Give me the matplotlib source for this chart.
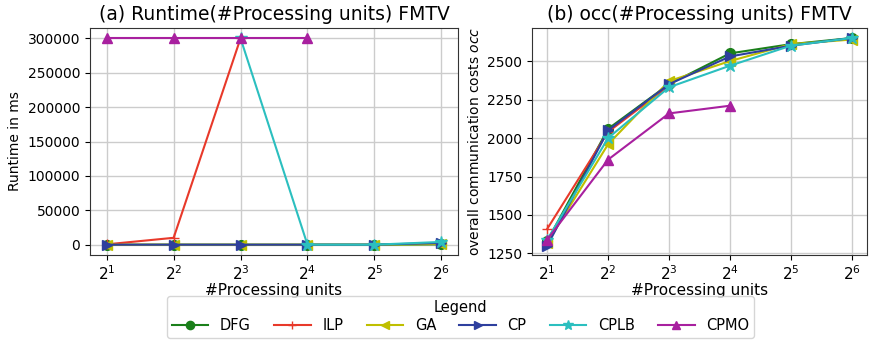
import matplotlib
matplotlib.use("Agg")
import matplotlib.pyplot as plt
import numpy as np

units = [2, 4, 8, 16, 32, 64]
tick_labels = [r"$2^{1}$", r"$2^{2}$", r"$2^{3}$", r"$2^{4}$", r"$2^{5}$", r"$2^{6}$"]

names = ["DFG", "ILP", "GA", "CP", "CPLB", "CPMO"]
colors = ["#1a7f1a", "#e8392a", "#bfbf00", "#2e3f9e", "#2bbfbf", "#a8209f"]
markers = ["o", "+", "<", ">", "*", "^"]

nan = float("nan")
runtime_dfg = [0, 0, 0, 0, 0, 500]
runtime_ilp = [500, 10000, 300000]
runtime_ga = [0, 0, 0, 0, 0, 1000]
runtime_cp = [0, 0, 0, 0, 0, 2500]
runtime_cplb = [nan, nan, 300000, 0, 0, 4000]
runtime_cpmo = [300000, 300000, 300000, 300000]

occ_dfg = [1330, 2060, 2350, 2550, 2610, 2650]
occ_ilp = [1410, 2040, 2340]
occ_ga = [1320, 1960, 2370, 2500, 2610, 2640]
occ_cp = [1300, 2050, 2350, 2530, 2600, 2650]
occ_cplb = [1340, 2000, 2330, 2470, 2600, 2650]
occ_cpmo = [1340, 1860, 2160, 2210]

runtimes = [runtime_dfg, runtime_ilp, runtime_ga, runtime_cp, runtime_cplb, runtime_cpmo]
occs = [occ_dfg, occ_ilp, occ_ga, occ_cp, occ_cplb, occ_cpmo]

plt.rcParams['font.family'] = ['DejaVu Sans']
plt.rcParams['font.size'] = 10

fig = plt.figure(figsize=(8.74, 3.45), dpi=100)
ax1 = fig.add_axes([90/874, 1-255/345, 368/874, 227/345])
ax2 = fig.add_axes([532/874, 1-255/345, 335/874, 227/345])

for ax, data in [(ax1, runtimes), (ax2, occs)]:
    for name, c, m, vals in zip(names, colors, markers, data):
        ms = 9 if m == "*" else 7
        ax.plot(units[:len(vals)], vals, color=c, marker=m, label=name, markersize=ms, linewidth=1.5)
    ax.set_xscale("log", base=2)
    ax.set_xticks(units)
    ax.set_xticklabels(tick_labels, fontsize=11)
    ax.minorticks_off()
    ax.grid(True, color="#cccccc", linewidth=1)
    ax.set_axisbelow(True)
    ax.set_xlabel("#Processing units", fontsize=11, labelpad=0)
    for s in ax.spines.values():
        s.set_color("#333333")
    ax.tick_params(axis="y", labelsize=10)

ax1.set_ylim(-15000, 315000)
ax1.set_yticks([0, 50000, 100000, 150000, 200000, 250000, 300000])
ax1.set_ylabel("Runtime in ms", fontsize=10)
ax1.set_title("(a) Runtime(#Processing units) FMTV", fontsize=13.5)

ax2.set_ylim(1240, 2715)
ax2.set_yticks([1250, 1500, 1750, 2000, 2250, 2500])
ax2.set_ylabel(r"overall communication costs $occ$", fontsize=10)
ax2.set_title("(b) occ(#Processing units) FMTV", fontsize=13.5)

handles, labels = ax1.get_legend_handles_labels()
leg = fig.legend(handles, labels, loc="lower center", bbox_to_anchor=(0.527, 0.0), ncol=6,
                 title="Legend", fontsize=10.5, title_fontsize=10.5, frameon=True,
                 handlelength=2.5, columnspacing=1.6, borderpad=0.3, labelspacing=0.2,
                 handletextpad=0.8, markerscale=0.85)
leg.get_frame().set_edgecolor("#cccccc")

fig.savefig("out.png", dpi=100)
